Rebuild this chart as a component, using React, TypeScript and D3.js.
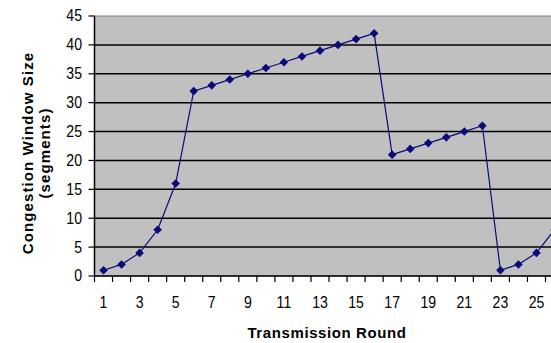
import React from "react";
import * as d3 from "d3";

const rounds = d3.range(1, 27);
const cwnd = [1, 2, 4, 8, 16, 32, 33, 34, 35, 36, 37, 38, 39, 40, 41, 42, 21, 22, 23, 24, 25, 26, 1, 2, 4, 8];
const yTicks = [0, 5, 10, 15, 20, 25, 30, 35, 40, 45];
const xLabels = [1, 3, 5, 7, 9, 11, 13, 15, 17, 19, 21, 23, 25];
const yTitle1 = "Congestion Window Size";
const yTitle2 = "(segments)";
const xTitle = "Transmission Round";

export default function App() {
  const W = 551, H = 343;
  const left = 94.5, top = 16, bottom = 276;
  const bandW = 18.04;
  const x = d3.scaleBand<number>().domain(rounds).range([left, left + bandW * rounds.length]);
  const y = d3.scaleLinear().domain([0, 45]).range([bottom, top]);
  const cx = (r: number) => (x(r) as number) + x.bandwidth() / 2;
  const line = d3.line<number>().x((_, i) => cx(rounds[i])).y((d) => y(d));
  const right = left + bandW * rounds.length;
  const navy = "#0a0a7a";
  const tickFont = "'Liberation Sans', Arial, sans-serif";
  return (
    <svg width={W} height={H} style={{ position: "absolute", left: 0, top: 0 }}>
      <rect width={W} height={H} fill="#fff" />
      <rect x={left} y={top} width={right - left} height={bottom - top} fill="#c0c0c0" stroke="#808080" strokeWidth={1} />
      {yTicks.map((t) => (
        <g key={t}>
          {t > 0 && t < 45 && <line x1={left} x2={right} y1={y(t)} y2={y(t)} stroke="#000" strokeWidth={1.5} />}
          <line x1={left - 6} x2={left} y1={y(t)} y2={y(t)} stroke="#000" strokeWidth={1.2} />
          <text x={82} y={y(t) + 5.5} textAnchor="end" fontFamily={tickFont} fontSize={16}
            transform={`translate(82,0) scale(0.88,1) translate(-82,0)`} fill="#000">{t}</text>
        </g>
      ))}
      <line x1={left} x2={left} y1={top} y2={bottom} stroke="#000" strokeWidth={1.5} />
      <line x1={left} x2={right} y1={bottom} y2={bottom} stroke="#000" strokeWidth={1.5} />
      {d3.range(0, rounds.length + 1).map((i) => (
        <line key={i} x1={left + i * bandW} x2={left + i * bandW} y1={bottom} y2={bottom + 6} stroke="#000" strokeWidth={1.2} />
      ))}
      {xLabels.map((r) => (
        <text key={r} x={cx(r)} y={308} textAnchor="middle" fontFamily={tickFont} fontSize={16}
          transform={`translate(${cx(r)},0) scale(0.88,1) translate(${-cx(r)},0)`} fill="#000">{r}</text>
      ))}
      <path d={line(cwnd) || ""} fill="none" stroke={navy} strokeWidth={1.2} />
      {cwnd.map((v, i) => {
        const px = cx(rounds[i]), py = y(v), s = 4.3;
        return <path key={i} d={`M${px},${py - s}L${px + s},${py}L${px},${py + s}L${px - s},${py}Z`} fill={navy} />;
      })}
      <text transform={`translate(33,153) rotate(-90)`} textAnchor="middle" fontFamily="Arial, 'Liberation Sans', sans-serif"
        fontWeight="bold" fontSize={15} letterSpacing={1.1} fill="#000">{yTitle1}</text>
      <text transform={`translate(50,153) rotate(-90)`} textAnchor="middle" fontFamily="Arial, 'Liberation Sans', sans-serif"
        fontWeight="bold" fontSize={15} letterSpacing={1.1} fill="#000">{yTitle2}</text>
      <text x={327} y={338} textAnchor="middle" fontFamily="Arial, 'Liberation Sans', sans-serif"
        fontWeight="bold" fontSize={15} letterSpacing={0.6} fill="#000">{xTitle}</text>
    </svg>
  );
}
